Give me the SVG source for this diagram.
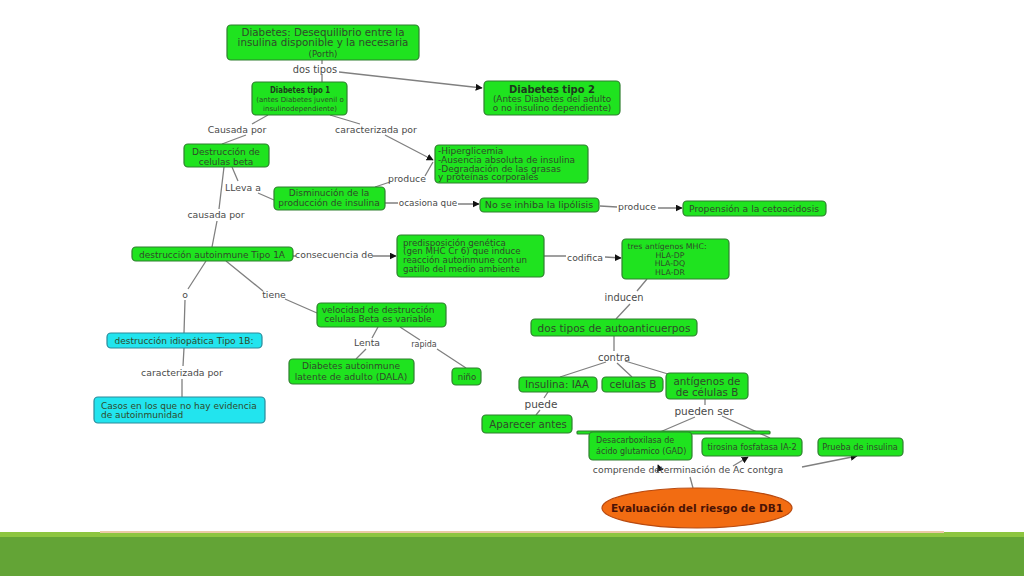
<svg xmlns="http://www.w3.org/2000/svg" width="1024" height="576" viewBox="0 0 1024 576">
<style>
.n{fill:#1fe31f;stroke:#2f7f2f;stroke-width:1.2}
.c{fill:#22e4ee;stroke:#2a8a9a;stroke-width:1.2}
.t{font-family:"DejaVu Sans","Liberation Sans",sans-serif;font-size:9px;fill:#2f4a2a}
.tb{font-family:"DejaVu Sans","Liberation Sans",sans-serif;font-size:10px;font-weight:bold;fill:#1d3a1d}
.l{font-family:"DejaVu Sans","Liberation Sans",sans-serif;font-size:9.3px;fill:#4a4a4a}
.k{fill:none;stroke:#808080;stroke-width:1.3}
</style>
<defs>
<marker id="a" viewBox="0 0 10 10" refX="9" refY="5" markerWidth="7" markerHeight="7" orient="auto" markerUnits="userSpaceOnUse"><path d="M0,0L10,5L0,10z" fill="#111"/></marker>
</defs>
<rect width="1024" height="576" fill="#fff"/>
<rect x="0" y="532" width="1024" height="6" fill="#8dc540"/>
<rect x="0" y="537" width="1024" height="39" fill="#63a436"/>
<rect x="100" y="531" width="844" height="2" fill="#ecc9a6"/>

<g id="connectors">
<path class="k" d="M322,60V64M322,74V82"/>
<path class="k" d="M339,72L482,88" marker-end="url(#a)"/>
<path class="k" d="M268,115L252,124M246,135L222,144"/>
<path class="k" d="M330,115L360,124M385,135L433,160" marker-end="url(#a)"/>
<path class="k" d="M375,187L390,182M425,176L433,162"/>
<path class="k" d="M232,167L238,181M258,193L274,200"/>
<path class="k" d="M224,167L219,209M217,221L212,247"/>
<path class="k" d="M385,203L398,203M458,204L479,204" marker-end="url(#a)"/>
<path class="k" d="M600,206L617,207M658,208L682,208" marker-end="url(#a)"/>
<path class="k" d="M293,256L296,256M372,256L396,256" marker-end="url(#a)"/>
<path class="k" d="M544,256L566,256M605,257L621,258" marker-end="url(#a)"/>
<path class="k" d="M647,279L637,291M630,304L616,319"/>
<path class="k" d="M206,261L188,289M185,300L184,333"/>
<path class="k" d="M226,261L263,291M285,299L317,313"/>
<path class="k" d="M378,327L372,338M366,349L356,359"/>
<path class="k" d="M400,327L420,340M437,349L466,368"/>
<path class="k" d="M184,348L183,366M182,379L182,397"/>
<path class="k" d="M614,336V351M606,362L560,377M617,363L632,377M625,361L668,374"/>
<path class="k" d="M548,392L544,398M540,410L536,415"/>
<path class="k" d="M705,399V405M695,417L660,432M722,416L770,438"/>
<path class="k" d="M693,488L690,477"/>
<path class="k" d="M660,470L658,465" marker-end="url(#a)"/>
<path class="k" d="M733,466L748,457" marker-end="url(#a)"/>
<path class="k" d="M802,467L857,456" marker-end="url(#a)"/>
<text class="l" x="315" y="73.3" text-anchor="middle" style="font-size:9.8px">dos tipos</text>
<text class="l" x="237" y="133" text-anchor="middle">Causada por</text>
<text class="l" x="376" y="133" text-anchor="middle">caracterizada por</text>
<text class="l" x="407" y="181.5" text-anchor="middle">produce</text>
<text class="l" x="243" y="190.5" text-anchor="middle">LLeva a</text>
<text class="l" x="216" y="218" text-anchor="middle">causada por</text>
<text class="l" x="428" y="206" text-anchor="middle" style="font-size:8.8px">ocasiona que</text>
<text class="l" x="637" y="210" text-anchor="middle">produce</text>
<text class="l" x="334" y="257.5" text-anchor="middle">consecuencia de</text>
<text class="l" x="585" y="261" text-anchor="middle">codifica</text>
<text class="l" x="624" y="301" text-anchor="middle" style="font-size:9.8px">inducen</text>
<text class="l" x="185" y="298" text-anchor="middle">o</text>
<text class="l" x="274" y="298" text-anchor="middle">tiene</text>
<text class="l" x="367" y="346" text-anchor="middle">Lenta</text>
<text class="l" x="424" y="347" text-anchor="middle" style="font-size:8px">rapida</text>
<text class="l" x="182" y="376" text-anchor="middle">caracterizada por</text>
<text class="l" x="614" y="360.5" text-anchor="middle" style="font-size:10px">contra</text>
<text class="l" x="541" y="407.5" text-anchor="middle" style="font-size:10.5px">puede</text>
<text class="l" x="704" y="414.5" text-anchor="middle" style="font-size:10.5px">pueden ser</text>
<text class="l" x="688" y="473" text-anchor="middle">comprende determinación de Ac contgra</text>
</g>

<g id="n1"><rect class="n" x="227" y="25" width="192" height="35" rx="4"/>
<text class="t" text-anchor="middle" style="font-size:10.3px"><tspan x="323" y="35.5">Diabetes:  Desequilibrio entre la</tspan><tspan x="323" y="46">insulina disponible y la necesaria</tspan><tspan x="323" y="56.5" style="font-size:8.5px">(Porth)</tspan></text></g>
<g id="n2"><rect class="n" x="252" y="82" width="95" height="33" rx="4"/>
<text text-anchor="middle"><tspan class="tb" x="300" y="93" style="font-size:9.5px" textLength="60" lengthAdjust="spacingAndGlyphs">Diabetes tipo 1</tspan><tspan class="t" x="300" y="102" style="font-size:7px">(antes Diabetes juvenil o</tspan><tspan class="t" x="300" y="110.5" style="font-size:7px">insulinodependiente)</tspan></text></g>
<g id="n3"><rect class="n" x="484" y="81" width="136" height="34" rx="4"/>
<text text-anchor="middle"><tspan class="tb" x="552" y="92.5">Diabetes tipo 2</tspan><tspan class="t" x="552" y="102" style="font-size:8.9px">(Antes Diabetes del adulto</tspan><tspan class="t" x="552" y="110.5" style="font-size:8.9px">o no insulino dependiente)</tspan></text></g>
<g id="n4"><rect class="n" x="184" y="144" width="85" height="23" rx="4"/>
<text class="t" text-anchor="middle"><tspan x="226" y="155">Destrucción de</tspan><tspan x="226" y="164.5">celulas beta</tspan></text></g>
<g id="n5"><rect class="n" x="435" y="145" width="153" height="38" rx="4"/>
<text class="t"><tspan x="438" y="154">-Hiperglicemia</tspan><tspan x="438" y="162.8">-Ausencia absoluta de insulina</tspan><tspan x="438" y="171.6">-Degradación de las grasas</tspan><tspan x="438" y="180.4">y proteínas corporales</tspan></text></g>
<g id="n6"><rect class="n" x="274" y="187" width="111" height="23" rx="4"/>
<text class="t" text-anchor="middle"><tspan x="329" y="196">Disminución de la</tspan><tspan x="329" y="206">producción de insulina</tspan></text></g>
<g id="n7"><rect class="n" x="480" y="198" width="119" height="14" rx="4"/>
<text class="t" x="539" y="208.3" text-anchor="middle" style="font-size:9.5px">No se inhiba la lipólisis</text></g>
<g id="n8"><rect class="n" x="683" y="201" width="143" height="15" rx="4"/>
<text class="t" x="754" y="212" text-anchor="middle" style="font-size:9.2px">Propensión a la cetoacidosis</text></g>
<g id="n9"><rect class="n" x="132" y="247" width="161" height="14" rx="4"/>
<text class="t" x="212" y="257.5" text-anchor="middle">destrucción autoinmune Tipo 1A</text></g>
<g id="n10"><rect class="n" x="397" y="235" width="147" height="42" rx="4"/>
<text class="t" style="font-size:8.7px"><tspan x="403" y="245.5">predisposición genética</tspan><tspan x="403" y="254.3">(gen MHC Cr 6) que induce</tspan><tspan x="403" y="263.1">reacción autoinmune con un</tspan><tspan x="403" y="271.9">gatillo del medio ambiente</tspan></text></g>
<g id="n11"><rect class="n" x="622" y="239" width="107" height="40" rx="4"/>
<text class="t" text-anchor="middle" style="font-size:7.8px"><tspan x="667" y="249">tres antígenos MHC:</tspan><tspan x="670" y="257.5">HLA-DP</tspan><tspan x="670" y="266">HLA-DQ</tspan><tspan x="670" y="274.5">HLA-DR</tspan></text></g>
<g id="n12"><rect class="c" x="107" y="333" width="155" height="15" rx="4"/>
<text class="t" x="184" y="343.7" text-anchor="middle">destrucción idiopática Tipo 1B:</text></g>
<g id="n13"><rect class="n" x="317" y="303" width="129" height="24" rx="4"/>
<text class="t" text-anchor="middle"><tspan x="378" y="313">velocidad de destrucción</tspan><tspan x="378" y="322.3">celulas Beta es variable</tspan></text></g>
<g id="n14"><rect class="n" x="289" y="359" width="125" height="25" rx="4"/>
<text class="t" text-anchor="middle" style="font-size:9.1px"><tspan x="351" y="368.5">Diabetes autoinmune</tspan><tspan x="351" y="379.5">latente de adulto (DALA)</tspan></text></g>
<g id="n15"><rect class="n" x="452" y="368" width="29" height="17" rx="4"/>
<text class="t" x="467" y="379.5" text-anchor="middle" style="font-size:8.5px">niño</text></g>
<g id="n16"><rect class="c" x="94" y="397" width="171" height="26" rx="4"/>
<text class="t"><tspan x="101" y="408.5">Casos en los que no hay evidencia</tspan><tspan x="101" y="418.3">de autoinmunidad</tspan></text></g>
<g id="n17"><rect class="n" x="531" y="319" width="166" height="17" rx="4"/>
<text class="t" x="614" y="331.5" text-anchor="middle" style="font-size:10.5px">dos tipos de autoanticuerpos</text></g>
<g id="n18"><rect class="n" x="519" y="377" width="78" height="15" rx="4"/>
<text class="t" x="557" y="388.3" text-anchor="middle" style="font-size:10.3px">Insulina: IAA</text></g>
<g id="n19"><rect class="n" x="602" y="377" width="61" height="15" rx="4"/>
<text class="t" x="633" y="388.3" text-anchor="middle" style="font-size:10.5px">celulas B</text></g>
<g id="n20"><rect class="n" x="666" y="373" width="82" height="26" rx="4"/>
<text class="t" text-anchor="middle" style="font-size:10.3px"><tspan x="707" y="385.3">antígenos de</tspan><tspan x="707" y="395.5">de células B</tspan></text></g>
<g id="n21"><rect class="n" x="482" y="415" width="90" height="18" rx="4"/>
<text class="t" x="528" y="427.7" text-anchor="middle" style="font-size:10.2px">Aparecer antes</text></g>
<g id="n22"><rect class="n" x="577" y="431" width="193" height="3" rx="1" stroke="none"/>
<rect class="n" x="589" y="432" width="103" height="28" rx="4"/>
<text class="t" style="font-size:8px"><tspan x="596" y="443">Desacarboxilasa de</tspan><tspan x="596" y="453.5">ácido glutamico (GAD)</tspan></text></g>
<g id="n23"><rect class="n" x="702" y="438" width="100" height="18" rx="4"/>
<text class="t" x="752" y="449.7" text-anchor="middle" style="font-size:8.2px">tirosina fosfatasa IA-2</text></g>
<g id="n24"><rect class="n" x="818" y="438" width="85" height="18" rx="4"/>
<text class="t" x="860" y="449.7" text-anchor="middle" style="font-size:8.2px">Prueba de insulina</text></g>
<g id="n25"><ellipse cx="697" cy="508" rx="95" ry="20" fill="#f26c12" stroke="#b84a10" stroke-width="1.2"/>
<text x="697" y="512" text-anchor="middle" font-family="'DejaVu Sans','Liberation Sans',sans-serif" font-size="10.5" font-weight="bold" fill="#4a1205">Evaluación del riesgo de DB1</text></g>
</svg>
